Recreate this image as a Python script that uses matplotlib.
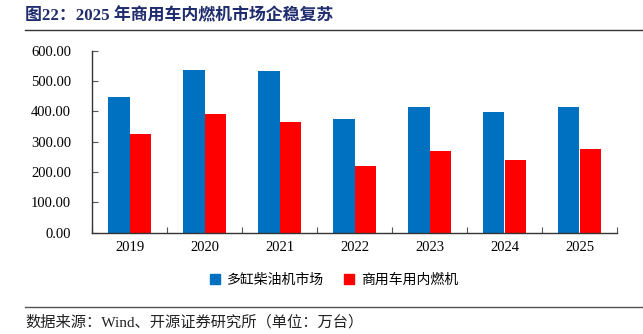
import matplotlib
matplotlib.use("Agg")
import matplotlib.pyplot as plt
from matplotlib.patches import Rectangle
from matplotlib.lines import Line2D
import numpy as np

years = ["2019", "2020", "2021", "2022", "2023", "2024", "2025"]
multi_cyl_diesel = [449, 537, 535, 375, 415, 399, 415]
commercial_ice = [326, 392, 365, 220, 269, 240, 275]
series_names = ["多缸柴油机市场", "商用车用内燃机"]
title = "图22：2025 年商用车内燃机市场企稳复苏"
source = "数据来源：Wind、开源证券研究所（单位：万台）"

fam = ['Liberation Serif', 'Noto Sans CJK SC', 'DejaVu Sans']
plt.rcParams['font.family'] = fam

fig = plt.figure(figsize=(6.43, 3.34), dpi=100)
ax = fig.add_axes([92/643, 1-232.5/334, (617-92)/643, (232.5-51)/334])

x = np.arange(len(years))
w = 0.287
ax.bar(x - w/2, multi_cyl_diesel, w, color='#0070C0', label=series_names[0])
ax.bar(x + w/2, commercial_ice, w, color='#FF0000', label=series_names[1])

ax.set_xlim(-0.5, len(years) - 0.5)
ax.set_ylim(0, 600)
ax.set_yticks(np.arange(0, 601, 100))
ax.set_yticklabels([f"{v:.2f}" for v in np.arange(0, 601, 100)], fontsize=10.5)
ax.set_xticks(x)
ax.set_xticklabels(years, fontsize=10.5)
ax.set_xticks(np.arange(-0.5, len(years), 1), minor=True)
ax.tick_params(axis='x', which='major', length=0, pad=6)
ax.tick_params(axis='x', which='minor', length=4, direction='in', width=0.8, color='#555555')
ax.tick_params(axis='y', length=4, direction='in', width=0.8, color='#555555', pad=15)
for s in ['top', 'right']:
    ax.spines[s].set_visible(False)
for s in ['left', 'bottom']:
    ax.spines[s].set_color('#333333')
    ax.spines[s].set_linewidth(1.0)

# legend
handles = [Rectangle((0, 0), 1, 1, color='#0070C0'), Rectangle((0, 0), 1, 1, color='#FF0000')]
fig.legend(handles, series_names, loc='center', bbox_to_anchor=(334/643, 1-280/334), ncol=2,
           frameon=False, prop={'family': ['Noto Sans CJK SC'], 'size': 10},
           handlelength=0.7, handleheight=0.7, columnspacing=1.5, handletextpad=0.5)

# title
fig.text(25/643, 1-16/334, title, fontsize=12.2, fontweight='bold', color='#1F2C6E',
         va='center', ha='left', family=fam)
fig.add_artist(Line2D([25/643, 1.0], [1-29.5/334, 1-29.5/334], color='#333333', lw=1.0))
fig.add_artist(Line2D([25/643, 1.0], [1-307/334, 1-307/334], color='#555555', lw=1.0))
fig.text(25/643, 1-322/334, source, fontsize=11, color='#222222', va='center', ha='left',
         family=fam)

fig.savefig("out.png", dpi=100)
